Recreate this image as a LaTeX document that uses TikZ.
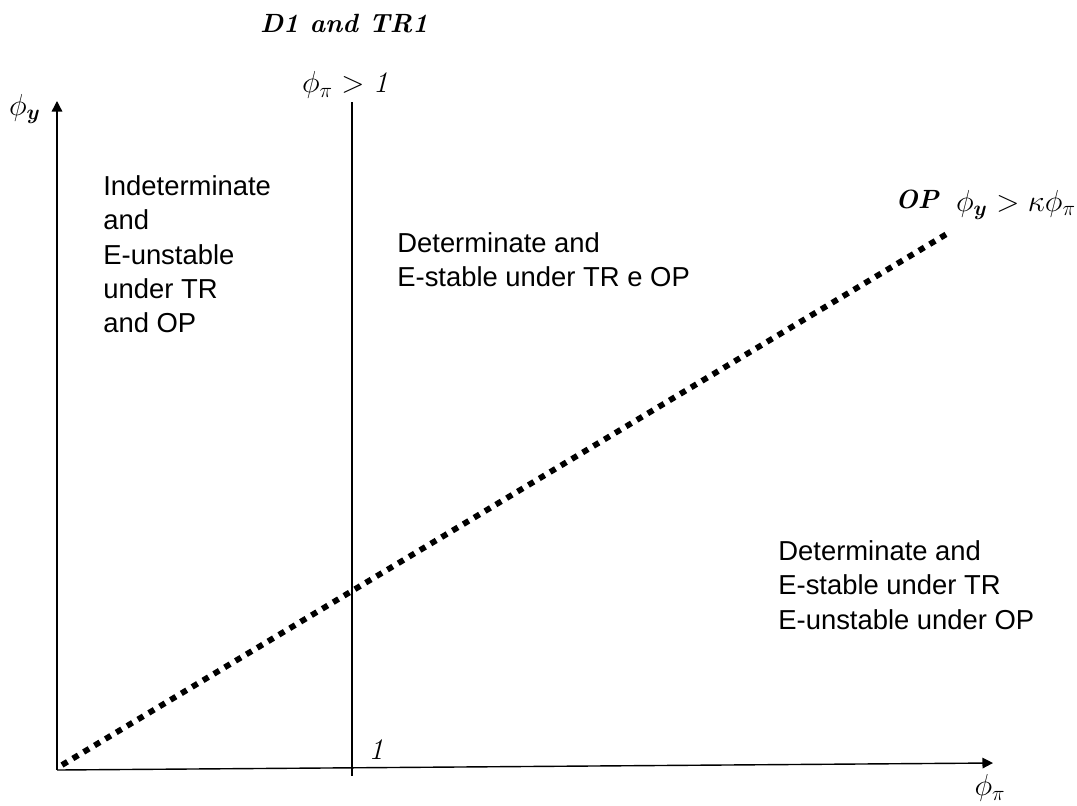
\documentclass[tikz,border=0pt]{standalone}
\usepackage{fontspec}
\setmainfont{Latin Modern Roman}
\newfontfamily\arialfont{Liberation Sans}
\usetikzlibrary{calc}
\usetikzlibrary{arrows.meta}
\usepackage{amsmath}

\begin{document}
\begin{tikzpicture}[x=0.02cm,y=-0.02cm,
  region/.style={anchor=north west, align=left, inner sep=0pt,
    font=\arialfont\fontsize{15.6}{19.6}\selectfont},
  lbl/.style={inner sep=0pt, font=\fontsize{17}{20}\selectfont},
  bfit/.style={inner sep=0pt, font=\fontsize{15}{18}\selectfont\bfseries\itshape}]
\useasboundingbox (0,0) rectangle (1077,805);
% axes
\coordinate (O) at (57,770);
\coordinate (xend) at (993,763);
\coordinate (yend) at (57,101);
\draw[line width=0.8pt, -{Triangle[length=6pt,width=6pt]}] (O) -- (xend);
\draw[line width=0.8pt, -{Triangle[length=6pt,width=6pt]}] (O) -- (yend);
\node[lbl] (phiy) at (25,109) {$\phi_{\boldsymbol{y}}$};
\node[lbl] (phipi) at (990,788) {$\phi_{\pi}$};
% the phi_pi = 1 line
\coordinate (top1) at (352,102);
\coordinate (bot1) at (352,776);
\draw[line width=1.5pt] (top1) -- (bot1);
\node[lbl] (cond1) at (345,85) {$\phi_{\pi} > \textit{1}$};
\node[lbl] (one) at (376,750) {\textit{1}};
% OP line
\coordinate (opA) at (62,765);
\coordinate (opB) at (950,232);
\draw[line width=3.3pt, dash pattern=on 3.6pt off 3.6pt] (opA) -- (opB);
\node[bfit] (op) at (917,199) {OP};
\node[lbl] (cond2) at (1016,205) {$\phi_{\boldsymbol{y}} > \kappa\phi_{\pi}$};
\node[bfit] (title) at (344,24) {D1 and TR1};
% regions
\node[region] (indet) at (103,175) {Indeterminate\\and\\E-unstable\\under TR\\and OP};
\node[region] (detup) at (397,232) {Determinate and\\E-stable under TR e OP};
\node[region] (detlow) at (778,540) {Determinate and\\E-stable under TR\\E-unstable under OP};
\end{tikzpicture}
\end{document}
